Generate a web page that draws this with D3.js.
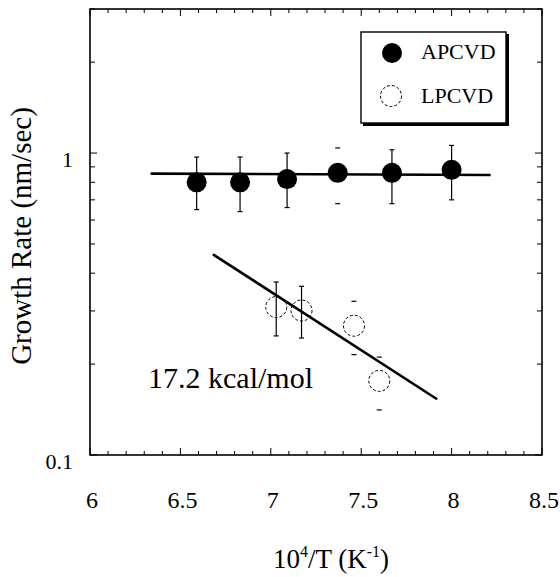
<!DOCTYPE html>
<html>
<head>
<meta charset="utf-8">
<script src="https://cdn.jsdelivr.net/npm/d3@7"></script>
<style>
	body { margin: 0; background: #fff; }
</style>
</head>
<body>
<div id="chart"></div>
<script>
// APCVD points (filled), x = 10^4/T, y = growth rate in nm/sec
var apX = [6.59, 6.83, 7.09, 7.37, 7.67, 8.00];
var apY = [0.80, 0.80, 0.82, 0.86, 0.86, 0.88];
var apHi = [0.97, 0.97, 1.00, 1.04, 1.025, 1.06];
var apLo = [0.65, 0.64, 0.66, 0.68, 0.68, 0.70];
var apStem = [true, true, true, false, true, true];
// LPCVD points (open)
var lpX = [7.03, 7.17, 7.46, 7.60];
var lpY = [0.309, 0.301, 0.268, 0.176];
var lpHi = [0.374, 0.362, 0.323, 0.211];
var lpLo = [0.248, 0.244, 0.215, 0.141];
var lpStem = [true, true, false, false];
// fit lines, end points
var apFitX = [6.335, 8.216], apFitY = [0.855, 0.846];
var lpFitX = [6.68, 7.92], lpFitY = [0.462, 0.153];
// ticks
var xTicks = [6, 6.5, 7, 7.5, 8, 8.5];
var yTicks = [0.1, 1];
var yMinor = [0.2, 0.3, 0.4, 0.5, 0.6, 0.7, 0.8, 0.9, 2, 3];
var legendNames = ["APCVD", "LPCVD"];
var noteText = "17.2 kcal/mol";

var W = 560, H = 577;
// plot box (window.top is taken, so prefixed names)
var pLeft = 90, pRight = 542, pTop = 9, pBottom = 455;

var svg = d3.select("#chart").append("svg")
	.attr("width", W).attr("height", H)
	.attr("font-family", "'Liberation Serif', 'Times New Roman', Tinos, 'DejaVu Serif', serif");

var x = d3.scaleLinear().domain([6, 8.5]).range([pLeft, pRight]);
var y = d3.scaleLog().domain([0.1, 3]).range([pBottom, pTop]);

// frame
svg.append("rect")
	.attr("x", pLeft).attr("y", pTop)
	.attr("width", pRight - pLeft).attr("height", pBottom - pTop)
	.attr("fill", "none").attr("stroke", "#000").attr("stroke-width", 1.6);

// x ticks, bottom and top, pointing in
var xMinor = d3.range(60, 86).map(function(v) { return v / 10; });
xMinor.forEach(function(v) {
	var major = xTicks.some(function(t) { return Math.abs(t - v) < 1e-6; });
	var len = major ? 7 : 4;
	svg.append("line").attr("x1", x(v)).attr("x2", x(v))
		.attr("y1", pBottom).attr("y2", pBottom - len)
		.attr("stroke", "#000").attr("stroke-width", 1);
	svg.append("line").attr("x1", x(v)).attr("x2", x(v))
		.attr("y1", pTop).attr("y2", pTop + len)
		.attr("stroke", "#000").attr("stroke-width", 1);
});
svg.selectAll(".xlab").data(xTicks).enter()
	.append("text")
	.attr("class", "xlab")
	.attr("x", function(d) { return x(d) + 2; })
	.attr("y", 508)
	.attr("text-anchor", "middle")
	.attr("font-size", 24)
	.text(function(d) { return d; });

// y ticks, left and right
yTicks.concat(yMinor).forEach(function(v) {
	var len = yTicks.indexOf(v) >= 0 ? 7 : 5;
	svg.append("line").attr("x1", pLeft).attr("x2", pLeft + len)
		.attr("y1", y(v)).attr("y2", y(v))
		.attr("stroke", "#000").attr("stroke-width", 1);
	svg.append("line").attr("x1", pRight).attr("x2", pRight - len)
		.attr("y1", y(v)).attr("y2", y(v))
		.attr("stroke", "#000").attr("stroke-width", 1);
});
svg.selectAll(".ylab").data(yTicks).enter()
	.append("text")
	.attr("class", "ylab")
	.attr("x", 73)
	.attr("y", function(d) { return y(d) + 14; })
	.attr("text-anchor", "end")
	.attr("font-size", 22)
	.text(function(d) { return d; });

// axis titles
var xt = svg.append("text")
	.attr("x", 331).attr("y", 568)
	.attr("text-anchor", "middle")
	.attr("font-size", 27);
xt.append("tspan").text("10");
xt.append("tspan").attr("font-size", 16).attr("dy", -11).text("4");
xt.append("tspan").attr("dy", 11).text("/T (K");
xt.append("tspan").attr("font-size", 16).attr("dy", -11).text("-1");
xt.append("tspan").attr("dy", 11).text(")");

svg.append("text")
	.attr("transform", "translate(31,236) rotate(-90)")
	.attr("text-anchor", "middle")
	.attr("font-size", 29)
	.text("Growth Rate (nm/sec)");

// fit lines
var fitLine = d3.line()
	.x(function(d) { return x(d[0]); })
	.y(function(d) { return y(d[1]); });
svg.append("path")
	.attr("d", fitLine(d3.zip(apFitX, apFitY)))
	.attr("stroke", "#000").attr("stroke-width", 2.6).attr("fill", "none");
svg.append("path")
	.attr("d", fitLine(d3.zip(lpFitX, lpFitY)))
	.attr("stroke", "#000").attr("stroke-width", 2.6).attr("fill", "none");

// error bars
function errorBars(xs, lo, hi, stem) {
	xs.forEach(function(v, i) {
		if (stem[i]) {
			svg.append("line").attr("x1", x(v)).attr("x2", x(v))
				.attr("y1", y(hi[i])).attr("y2", y(lo[i]))
				.attr("stroke", "#000").attr("stroke-width", 1.2);
		}
		[lo[i], hi[i]].forEach(function(e) {
			svg.append("line").attr("x1", x(v) - 2.5).attr("x2", x(v) + 2.5)
				.attr("y1", y(e)).attr("y2", y(e))
				.attr("stroke", "#000").attr("stroke-width", 1.2);
		});
	});
}
errorBars(apX, apLo, apHi, apStem);
errorBars(lpX, lpLo, lpHi, lpStem);

// points
svg.selectAll(".ap").data(d3.zip(apX, apY)).enter()
	.append("circle")
	.attr("class", "ap")
	.attr("cx", function(d) { return x(d[0]); })
	.attr("cy", function(d) { return y(d[1]); })
	.attr("r", 10)
	.attr("fill", "#000");
svg.selectAll(".lp").data(d3.zip(lpX, lpY)).enter()
	.append("circle")
	.attr("class", "lp")
	.attr("cx", function(d) { return x(d[0]); })
	.attr("cy", function(d) { return y(d[1]); })
	.attr("r", 10.5)
	.attr("fill", "none")
	.attr("stroke", "#000").attr("stroke-width", 1)
	.attr("stroke-dasharray", "3,2");

// annotation
svg.append("text")
	.attr("x", 148).attr("y", 388)
	.attr("font-size", 30)
	.text(noteText);

// legend box with shadow
var lg = svg.append("g");
lg.append("rect")
	.attr("x", 361).attr("y", 32).attr("width", 145).attr("height", 91)
	.attr("fill", "#fff").attr("stroke", "#000").attr("stroke-width", 1.4);
lg.append("path")
	.attr("d", "M507.5,34 V124.5 H363")
	.attr("fill", "none").attr("stroke", "#000").attr("stroke-width", 3);
lg.append("circle").attr("cx", 392).attr("cy", 53).attr("r", 10).attr("fill", "#000");
lg.append("circle").attr("cx", 391).attr("cy", 96).attr("r", 10.5)
	.attr("fill", "none").attr("stroke", "#000").attr("stroke-width", 1)
	.attr("stroke-dasharray", "3,2");
lg.selectAll(".lgtext").data(legendNames).enter()
	.append("text")
	.attr("class", "lgtext")
	.attr("x", 421)
	.attr("y", function(d, i) { return i == 0 ? 59 : 103; })
	.attr("font-size", 22)
	.text(function(d) { return d; });
</script>
</body>
</html>
